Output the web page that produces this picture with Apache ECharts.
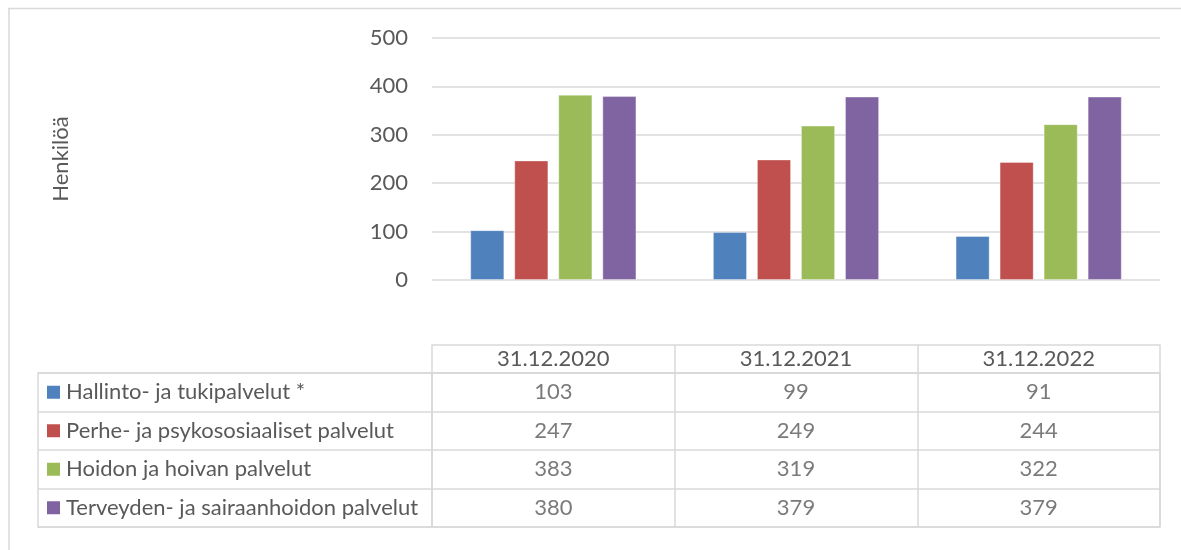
<!DOCTYPE html>
<html>
<head>
<meta charset="utf-8">
<script src="https://cdn.jsdelivr.net/npm/echarts@6/dist/echarts.min.js"></script>
<style>
html,body{margin:0;padding:0;background:#fff;}
#chart{width:1181px;height:550px;}
</style>
</head>
<body>
<div id="chart"></div>
<script>
var categories = ['31.12.2020', '31.12.2021', '31.12.2022'];
var seriesNames = ['Hallinto- ja tukipalvelut *', 'Perhe- ja psykososiaaliset palvelut', 'Hoidon ja hoivan palvelut', 'Terveyden- ja sairaanhoidon palvelut'];
var hallinto = [103, 99, 91];
var perhe = [247, 249, 244];
var hoito = [383, 319, 322];
var terveys = [380, 379, 379];
var colors = ['#4F81BD', '#C0504D', '#9BBB59', '#8064A2'];
var yTicks = [0, 100, 200, 300, 400, 500];
var yAxisName = 'Henkilöä';

var values = [hallinto, perhe, hoito, terveys];
var FONT = 'Lato';
var FS = 22;
var TXT = '#595959';
var LINE = '#d9d9d9';

var rich = { t: { fontFamily: FONT, fontSize: FS, color: TXT, padding: [0, 0, 0, 6] } };
colors.forEach(function (c, i) {
  rich['m' + i] = { width: 13, height: 13, backgroundColor: c };
});

var series = [];
values.forEach(function (v, i) {
  series.push({
    type: 'bar', name: seriesNames[i], xAxisIndex: 0, yAxisIndex: 0,
    data: v, barGap: '29%', barCategoryGap: '31.5%',
    itemStyle: { color: colors[i], borderColor: 'rgba(255,255,255,0.35)', borderWidth: 1 }
  });
  series.push({
    type: 'scatter', xAxisIndex: 1, yAxisIndex: 1, symbolSize: 0, silent: true,
    data: v.map(function (val, j) { return [categories[j], seriesNames[i], val]; }),
    label: { show: true, position: 'inside', formatter: function (p) { return p.value[2]; },
      fontFamily: FONT, fontSize: FS, color: TXT }
  });
});
series.push({ type: 'scatter', xAxisIndex: 3, yAxisIndex: 2, symbolSize: 0, data: [], silent: true });

var option = {
  animation: false,
  backgroundColor: '#fff',
  textStyle: { fontFamily: FONT },
  grid: [
    { left: 432, right: 21, top: 38, height: 242 },
    { left: 432, right: 21, top: 373, bottom: 23, show: true, borderColor: LINE, borderWidth: 1.5, backgroundColor: 'transparent' },
    { left: 38, width: 394, top: 373, bottom: 23, show: true, borderColor: LINE, borderWidth: 1.5, backgroundColor: 'transparent' }
  ],
  xAxis: [
    { type: 'category', gridIndex: 0, data: categories, axisLine: { show: false }, axisTick: { show: false }, axisLabel: { show: false } },
    { type: 'category', gridIndex: 1, data: categories, position: 'top',
      axisLine: { show: true, lineStyle: { color: LINE, width: 1.5 } },
      axisTick: { show: true, length: 28, inside: false, lineStyle: { color: LINE, width: 1.5 } },
      axisLabel: { show: true, margin: 14, verticalAlign: 'middle', fontFamily: FONT, fontSize: FS, color: TXT },
      splitLine: { show: true, lineStyle: { color: LINE, width: 1.5 } } },
    { type: 'category', gridIndex: 1, data: categories, position: 'top', offset: 28,
      axisLine: { show: true, lineStyle: { color: LINE, width: 1.5 } },
      axisTick: { show: false }, axisLabel: { show: false } },
    { type: 'value', gridIndex: 2, show: false }
  ],
  yAxis: [
    { type: 'value', gridIndex: 0, min: 0, max: 500, interval: 100,
      name: yAxisName, nameLocation: 'middle', nameGap: 360, nameRotate: 90,
      nameTextStyle: { fontFamily: FONT, fontSize: FS, color: TXT },
      axisLine: { show: false }, axisTick: { show: false },
      axisLabel: { margin: 24, fontFamily: FONT, fontSize: FS, color: TXT,
        formatter: function (v) { return yTicks.indexOf(v) >= 0 ? String(v) : ''; } },
      splitLine: { lineStyle: { color: LINE, width: 1.5 } } },
    { type: 'category', gridIndex: 1, data: seriesNames, inverse: true,
      axisLine: { show: false }, axisTick: { show: false }, axisLabel: { show: false },
      splitLine: { show: true, lineStyle: { color: LINE, width: 1.5 } } },
    { type: 'category', gridIndex: 2, data: seriesNames, inverse: true,
      axisLine: { show: false }, axisTick: { show: false },
      axisLabel: { show: true, inside: true, margin: 9, align: 'left',
        formatter: function (v) { var i = seriesNames.indexOf(v); return '{m' + i + '|}{t|' + v + '}'; },
        rich: rich },
      splitLine: { show: true, lineStyle: { color: LINE, width: 1.5 } } }
  ],
  graphic: [
    { type: 'line', shape: { x1: 8, y1: 8.5, x2: 1181, y2: 8.5 }, style: { stroke: LINE, lineWidth: 1.5 }, silent: true },
    { type: 'line', shape: { x1: 9, y1: 8, x2: 9, y2: 550 }, style: { stroke: LINE, lineWidth: 1.5 }, silent: true }
  ],
  series: series
};

var chart = echarts.init(document.getElementById('chart'), null, { renderer: 'canvas' });
chart.setOption(option);
</script>
</body>
</html>
